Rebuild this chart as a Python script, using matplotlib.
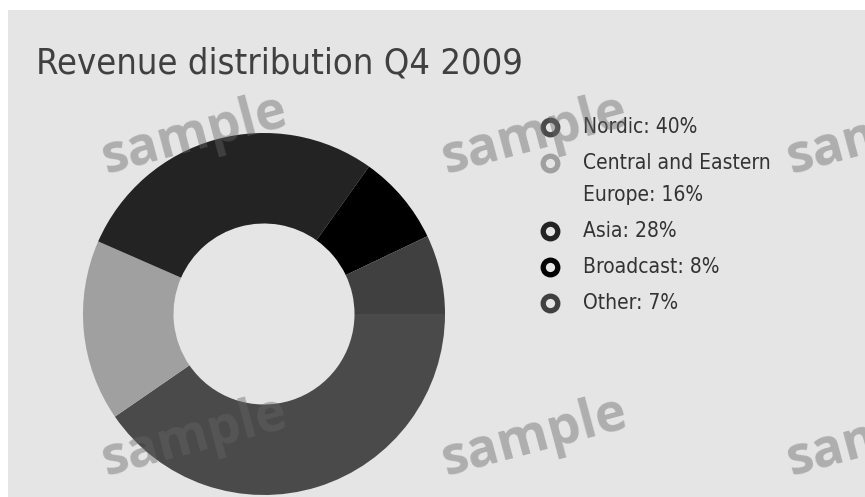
import matplotlib
matplotlib.use("Agg")
import matplotlib.pyplot as plt

# Revenue split for Q4 2009, in percent
regions = ['Nordic', 'Central and Eastern\nEurope', 'Asia', 'Broadcast', 'Other']
shares = [40, 16, 28, 8, 7]
colors = ['#4a4a4a', '#a0a0a0', '#232323', '#000000', '#404040']
title = 'Revenue distribution Q4 2009'

W, H = 865, 497
bg = '#e5e5e5'

fig = plt.figure(figsize=(W / 100, H / 100), dpi=100, facecolor='white')

# pixel-coordinate canvas for background, title and legend
base = fig.add_axes([0, 0, 1, 1], zorder=0)
base.set_xlim(0, W)
base.set_ylim(H, 0)
base.axis('off')
base.add_patch(plt.Rectangle((8, 10), W - 8, H - 10, facecolor=bg, edgecolor='none'))

base.text(36, 73, title, fontsize=26, color='#404040', family='DejaVu Sans',
          fontstretch='condensed', ha='left', va='baseline')

# legend: ring markers and labels, one row per region
y = 127
for name, share, c in zip(regions, shares, colors):
    base.plot([550], [y], marker='o', markersize=10.5, markeredgewidth=3.8,
              markerfacecolor=bg, markeredgecolor=c, linestyle='none')
    lines = f'{name}: {share}%'.split('\n')
    for i, line in enumerate(lines):
        base.text(583, y + i * 32, line, fontsize=15, color='#333333',
                  family='DejaVu Sans', fontstretch='condensed',
                  ha='left', va='center')
    y += 36 + 32 * (len(lines) - 1)

# donut
ax = fig.add_axes([83 / W, 2 / H, 362 / W, 362 / H], zorder=1)
ax.pie(shares, colors=colors, startangle=0, counterclock=False, radius=1,
       wedgeprops=dict(width=0.5, edgecolor='none', linewidth=0))
ax.set_xlim(-1, 1)
ax.set_ylim(-1, 1)
ax.set_aspect('equal')
ax.axis('off')

# watermark
top = fig.add_axes([0, 0, 1, 1], zorder=2)
top.set_xlim(0, W)
top.set_ylim(H, 0)
top.axis('off')
top.patch.set_alpha(0)
for wx in [195, 535, 880]:
    for wy in [135, 437]:
        top.text(wx, wy, 'sample', fontsize=38, family='Open Sans',
                 fontweight='bold', color='#666666', alpha=0.43, rotation=15,
                 ha='center', va='center', rotation_mode='anchor')

fig.savefig('out.png', dpi=100, facecolor='white')
